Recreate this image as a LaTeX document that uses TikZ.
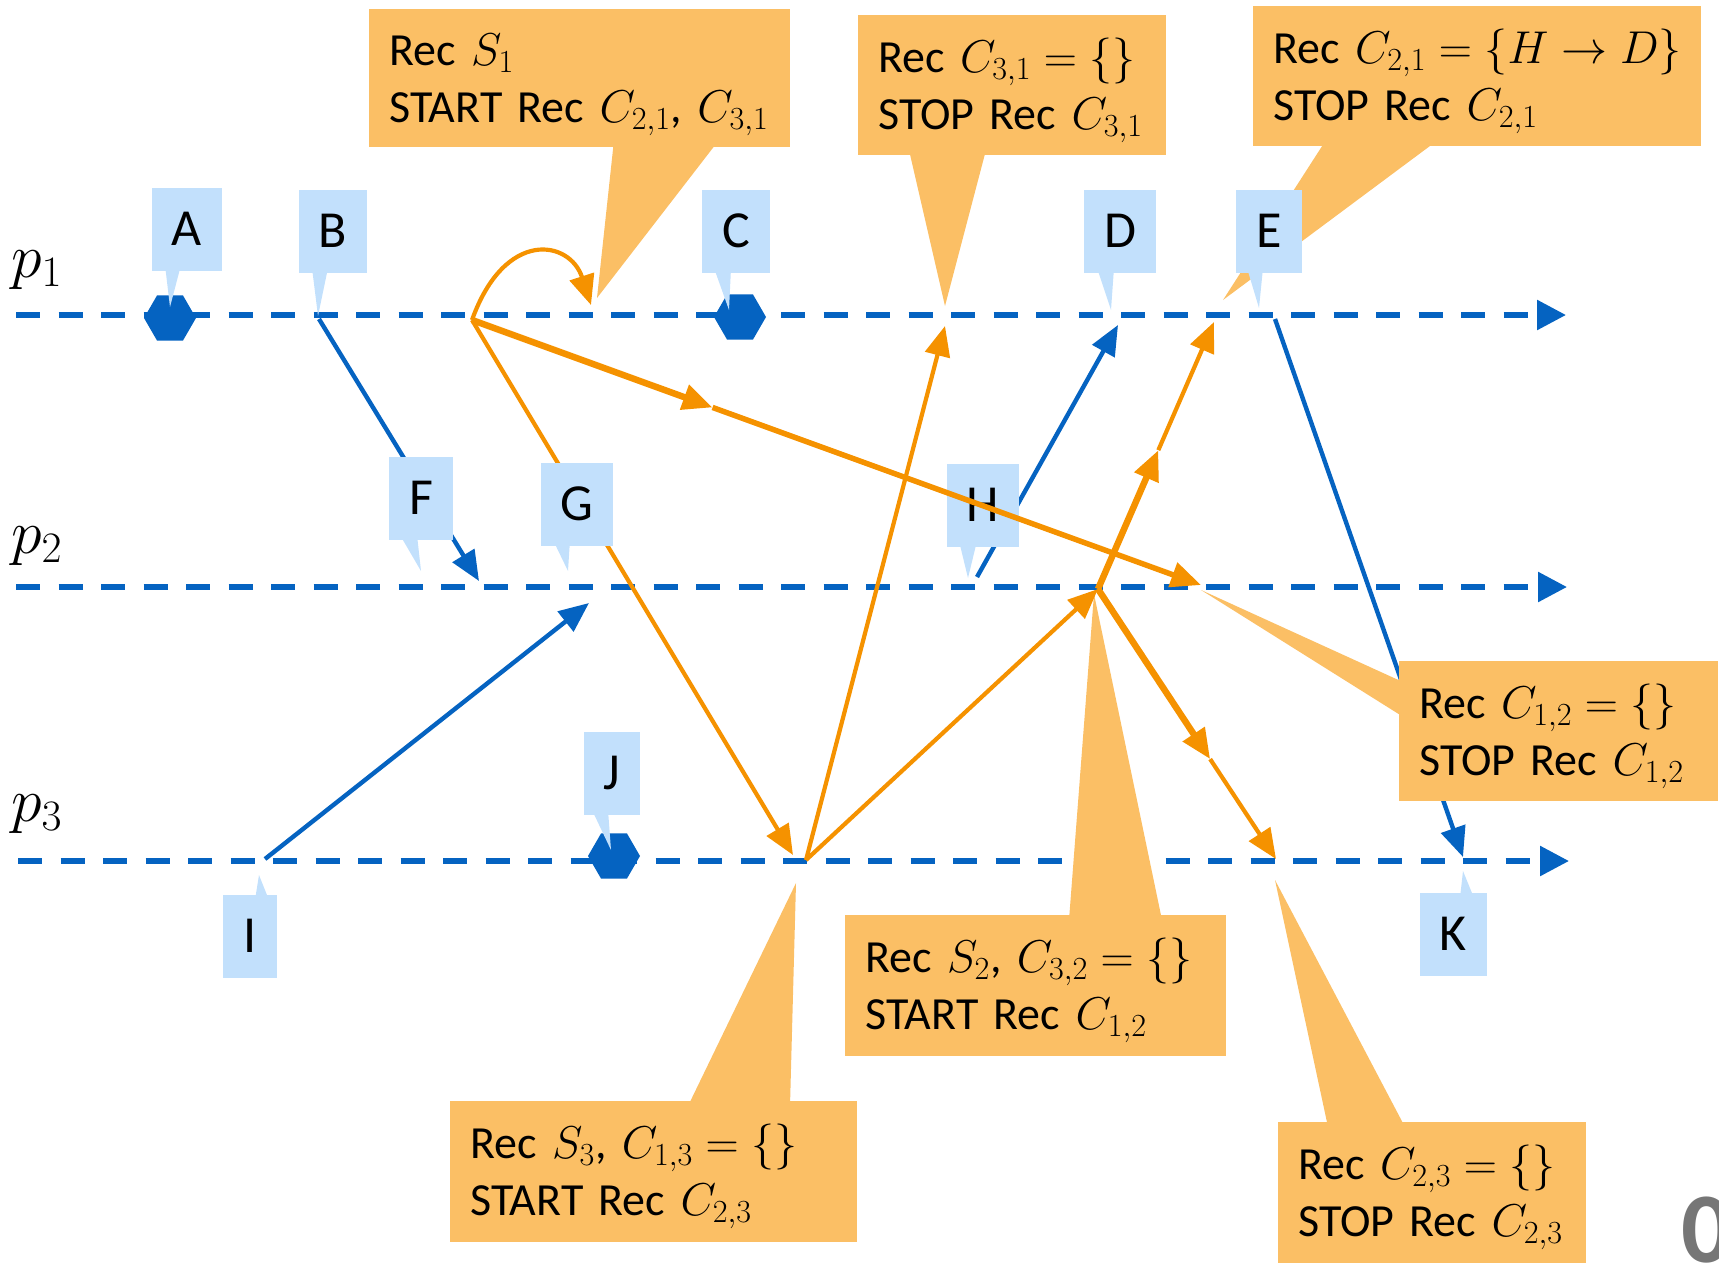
\RequirePackage{fix-cm}
\documentclass[tikz,border=0pt]{standalone}
\usepackage{fontspec}
\setmainfont{Carlito}
\usetikzlibrary{shapes,arrows,arrows.meta,calc}

\definecolor{procblue}{RGB}{5,99,193}
\definecolor{tagblue}{RGB}{194,224,252}
\definecolor{noteorange}{RGB}{251,191,101}
\definecolor{msgorange}{RGB}{245,146,0}
\definecolor{numgray}{RGB}{118,118,118}
\relpenalty=10000
\binoppenalty=10000

\begin{document}
\begin{tikzpicture}[x=1pt, y=-1pt]

            % Define styles
            \tikzstyle{proc} = [draw=procblue, line width=5.7pt, dash pattern=on 24pt off 18.5pt, -{Triangle[length=29pt,width=29pt]}]
            \tikzstyle{hexmark} = [regular polygon, regular polygon sides=6, minimum size=52pt, inner sep=0pt, fill=procblue]
            \tikzstyle{bmsg} = [draw=procblue, line width=4.4pt, -{Triangle[length=30pt,width=25pt]}]
            \tikzstyle{omsg} = [draw=msgorange, line width=4.2pt, -{Triangle[length=30pt,width=25pt]}]
            \tikzstyle{omark} = [draw=msgorange, line width=6.5pt, -{Triangle[length=30pt,width=25pt]}]
            \tikzstyle{evtag} = [fill=tagblue, inner xsep=20pt, inner ysep=0pt, minimum height=83pt, font=\fontsize{52}{60}\selectfont]
            \tikzstyle{recnote} = [fill=noteorange, anchor=north west, align=left, inner xsep=20pt, inner ysep=0pt, minimum height=140pt, font=\fontsize{46}{57}\selectfont, execute at begin node={\rule{0pt}{44pt}}]
            \tikzstyle{pname} = [anchor=base west, inner sep=0pt, font=\fontsize{62}{66}\selectfont]

            \useasboundingbox (0,0) rectangle (1719,1264);

            % Processes
            \coordinate (p1s) at (16,315);  \coordinate (p1e) at (1566,315);
            \coordinate (p2s) at (16,587);  \coordinate (p2e) at (1567,587);
            \coordinate (p3s) at (18,861);  \coordinate (p3e) at (1569,861);
            \path [proc] (p1s) -- (p1e);
            \path [proc] (p2s) -- (p2e);
            \path [proc] (p3s) -- (p3e);
            \node [pname] (lp1) at (11,277) {$p_1$};
            \node [pname] (lp2) at (11,553) {$p_2$};
            \node [pname] (lp3) at (11,821) {$p_3$};

            % Snapshots
            \node [hexmark] (snA) at (170,318) {};
            \node [hexmark] (snC) at (740,317) {};
            \node [hexmark] (snJ) at (614,856) {};

            % Events
            \coordinate (evB) at (319,319);   \coordinate (evF) at (479,581);
            \coordinate (evI) at (265,859);   \coordinate (evG) at (589,603);
            \coordinate (evH) at (977,577);   \coordinate (evD) at (1118,325);
            \coordinate (evE) at (1275,319);  \coordinate (evK) at (1463,857);
            \coordinate (evS1) at (472,320);  \coordinate (loopS1) at (591,305);
            \coordinate (evS2) at (1098,589); \coordinate (evS3) at (806,860);
            \coordinate (mkS12) at (1201,585); \coordinate (mkS13) at (793,855);
            \coordinate (mkS31) at (945,326);  \coordinate (mkS21) at (1214,322);
            \coordinate (mkS23) at (1276,859);

            % Messages under the boxes
            \path [bmsg] (evB) -- (evF);
            \path [omsg] (evS1) -- (mkS13);
            \path [bmsg] (evH) -- (evD);
            \path [bmsg] (evE) -- (evK);

            % Recording notes
            \fill [noteorange] (614,140) -- (597,298) -- (719,140) -- cycle;
            \node [recnote, text width=381pt, minimum height=138pt] (recS1) at (369,9) {Rec~$S_1$\\START~Rec~$C_{2,1}$,~$C_{3,1}$};
            \fill [noteorange] (909,150) -- (945,306) -- (986,150) -- cycle;
            \node [recnote, text width=268pt] (recC31) at (858,15) {Rec~$C_{3,1} = \{\}$\\STOP~Rec~$C_{3,1}$};
            \fill [noteorange] (1326,140) -- (1223,300) -- (1438,140) -- cycle;
            \node [recnote, text width=408pt] (recC21) at (1253,6) {Rec~$C_{2,1} = \{H \rightarrow D\}$\\STOP~Rec~$C_{2,1}$};
            \fill [noteorange] (1405,683) -- (1201,590) -- (1405,718) -- cycle;
            \node [recnote, text width=279pt] (recC12) at (1399,661) {Rec~$C_{1,2} = \{\}$\\STOP~Rec~$C_{1,2}$};
            \fill [noteorange] (1069,920) -- (1094,594) -- (1162,920) -- cycle;
            \node [recnote, text width=341pt, minimum height=141pt] (recS2) at (845,915) {Rec~$S_2$,~$C_{3,2} = \{\}$\\START~Rec~$C_{1,2}$};
            \fill [noteorange] (688,1106) -- (796,883) -- (790,1106) -- cycle;
            \node [recnote, text width=367pt, minimum height=141pt] (recS3) at (450,1101) {Rec~$S_3$,~$C_{1,3} = \{\}$\\START~Rec~$C_{2,3}$};
            \fill [noteorange] (1328,1127) -- (1275,880) -- (1405,1127) -- cycle;
            \node [recnote, text width=268pt, minimum height=141pt] (recC23) at (1278,1122) {Rec~$C_{2,3} = \{\}$\\STOP~Rec~$C_{2,3}$};

            % Event tags
            \fill [tagblue] (165,265) -- (170,307) -- (181,265) -- cycle;
            \node [evtag] (tA) at (187,229) {A};
            \fill [tagblue] (312,268) -- (318,316) -- (328,268) -- cycle;
            \node [evtag] (tB) at (333,231) {B};
            \fill [tagblue] (714,268) -- (729,310) -- (731,268) -- cycle;
            \node [evtag] (tC) at (736,231) {C};
            \fill [tagblue] (1097,268) -- (1111,310) -- (1114,268) -- cycle;
            \node [evtag] (tD) at (1120,231) {D};
            \fill [tagblue] (1247,268) -- (1259,308) -- (1263,268) -- cycle;
            \node [evtag] (tE) at (1269,231) {E};
            \fill [tagblue] (400,535) -- (421,571) -- (417,535) -- cycle;
            \node [evtag] (tF) at (421,498) {F};
            \fill [tagblue] (553,540) -- (568,571) -- (570,540) -- cycle;
            \node [evtag] (tG) at (577,504) {G};
            \fill [tagblue] (959,541) -- (968,578) -- (977,541) -- cycle;
            \node [evtag] (tH) at (983,505) {H};
            \fill [tagblue] (255,900) -- (259,875) -- (269,900) -- cycle;
            \node [evtag] (tI) at (250,936) {I};
            \fill [tagblue] (592,810) -- (611,850) -- (608,810) -- cycle;
            \node [evtag] (tJ) at (612,773) {J};
            \fill [tagblue] (1460,898) -- (1463,871) -- (1474,898) -- cycle;
            \node [evtag] (tK) at (1453,934) {K};

            % Messages on top
            \path [bmsg] (evI) -- (evG);
            \path [omark] (evS1) -- ($(evS1)!0.33!(mkS12)$) coordinate (midA);
            \path [omark, line width=5.5pt] (midA) -- (mkS12);
            \path [omsg] (evS1) .. controls (505,228) and (570,240) .. (loopS1);
            \path [omsg] (evS3) -- (mkS31);
            \path [omsg] (evS3) -- (evS2);
            \path [omark] (evS2) -- ($(evS2)!0.52!(mkS21)$) coordinate (midB);
            \path [omsg] (midB) -- (mkS21);
            \path [omark] (evS2) -- ($(evS2)!0.63!(mkS23)$) coordinate (midC);
            \path [omsg] (midC) -- (mkS23);

            % Slide number
            \node [anchor=base west, inner sep=0pt, text=numgray, font=\fontsize{100}{100}\selectfont\bfseries] (pgnum) at (1681,1262) {0};

\end{tikzpicture}
\end{document}
